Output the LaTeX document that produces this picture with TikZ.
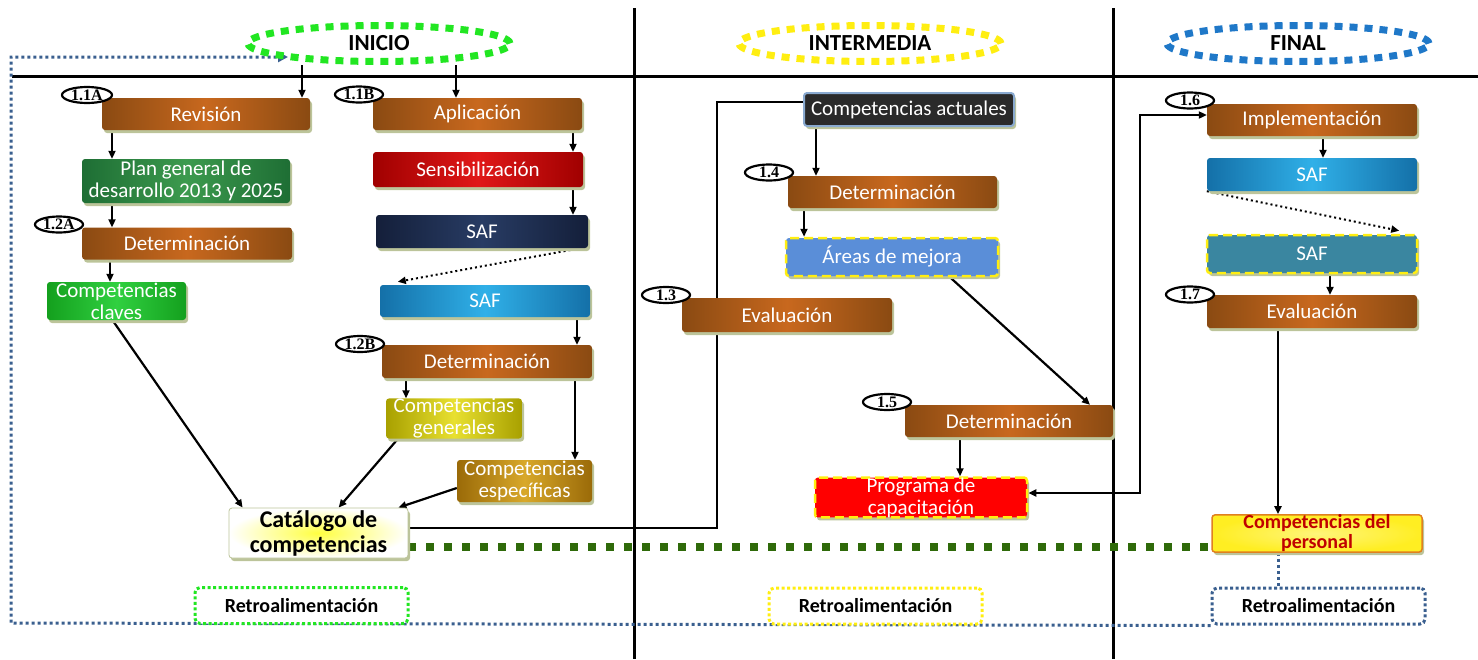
\documentclass[tikz,border=0pt]{standalone}
\usepackage{fontspec}
\setmainfont{Carlito}
\newfontfamily\badgefont{Liberation Serif}
\usetikzlibrary{arrows.meta,shapes.geometric,shadows}
\pgfdeclarelayer{bg}
\pgfsetlayers{bg,main}
\definecolor{brE}{HTML}{8A4A12}
\definecolor{brM}{HTML}{C8681E}
\definecolor{pgE}{HTML}{1E6E34}
\definecolor{pgM}{HTML}{3C9A4E}
\definecolor{cgE}{HTML}{14A01E}
\definecolor{cgM}{HTML}{30D040}
\definecolor{rdE}{HTML}{A00000}
\definecolor{rdM}{HTML}{E01818}
\definecolor{nvE}{HTML}{141F3A}
\definecolor{nvM}{HTML}{283C64}
\definecolor{blE}{HTML}{1470A8}
\definecolor{blM}{HTML}{30B0E8}
\definecolor{olE}{HTML}{A8A000}
\definecolor{olM}{HTML}{E8E030}
\definecolor{gdE}{HTML}{9A6A08}
\definecolor{gdM}{HTML}{D8A82A}
\definecolor{shad}{HTML}{BCC49A}
\definecolor{loopblue}{HTML}{3A5F8F}
\definecolor{fbgreen}{HTML}{2F6A0A}
\definecolor{inigreen}{HTML}{22E622}
\definecolor{midyellow}{HTML}{FFEE11}
\definecolor{finblue}{HTML}{1F78C8}
\definecolor{areablue}{HTML}{5A8ED8}
\definecolor{tealsaf}{HTML}{3A86A0}
\definecolor{darkact}{HTML}{2A2A2A}
\definecolor{actborder}{HTML}{8AAAD0}
\definecolor{persy}{HTML}{FFEE22}
\definecolor{perso}{HTML}{E08020}
\definecolor{persr}{HTML}{C00000}
\tikzset{
  box/.style={rectangle, rounded corners=3pt, inner sep=0pt, align=center, text=white,
    font=\fontsize{21}{22}\selectfont,
    drop shadow={shadow xshift=2pt, shadow yshift=-3pt, fill=shad, opacity=1}},
  grad/.style 2 args={left color=#1, right color=#1, middle color=#2},
  ydash/.style={draw=midyellow, line width=2.5pt, dash pattern=on 9pt off 5pt},
  hdr/.style={ellipse, minimum width=262pt, minimum height=36pt, line width=7pt,
    dash pattern=on 8pt off 7pt, inner sep=0pt, font=\bfseries\fontsize{23}{23}\selectfont},
  retro/.style={rectangle, rounded corners=5pt, fill=white, line width=3pt,
    dash pattern=on 3pt off 2.5pt, minimum width=213pt, minimum height=36pt, inner sep=0pt,
    font=\bfseries\fontsize{20}{20}\selectfont},
  badge/.style={ellipse, draw=black, line width=2.2pt, fill=white, inner sep=0pt,
    minimum width=48pt, minimum height=16pt, font=\badgefont\bfseries\fontsize{16}{16}\selectfont},
  arr/.style={-{Triangle[length=8pt,width=7pt]}, line width=2.2pt},
  darr/.style={{Triangle[length=8pt,width=7pt]}-{Triangle[length=8pt,width=7pt]}, line width=2.2pt},
  plain/.style={line width=2.2pt},
  dotarr/.style={-{Triangle[length=8pt,width=7pt]}, line width=2pt, dash pattern=on 2pt off 3pt},
  loop/.style={draw=loopblue, line width=3pt, dash pattern=on 3pt off 3pt},
  sect/.style={line width=3pt}
}
\begin{document}
\begin{tikzpicture}[x=1pt,y=-1pt]
\useasboundingbox (0,0) rectangle (1478,659);

% headers
\node[hdr, draw=inigreen] (ini) at (379,43.5) {INICIO};
\node[hdr, draw=midyellow] (mid) at (870,43.5) {INTERMEDIA};
\node[hdr, draw=finblue] (fin) at (1298,43.5) {FINAL};

% INICIO column A
\node[box, grad={brE}{brM}, minimum width=208pt, minimum height=32pt] (rev) at (206,114) {Revisión};
\node[box, grad={pgE}{pgM}, minimum width=208pt, minimum height=44pt] (plan) at (186,181) {Plan general de\\desarrollo 2013 y 2025};
\node[box, grad={brE}{brM}, minimum width=210pt, minimum height=32pt] (det1) at (187,243.5) {Determinación};
\node[box, grad={cgE}{cgM}, minimum width=139pt, minimum height=38pt] (claves) at (116.5,301) {Competencias\\claves};

% INICIO column B
\node[box, grad={brE}{brM}, minimum width=209pt, minimum height=32pt] (apl) at (477.5,114) {Aplicación};
\node[box, grad={rdE}{rdM}, minimum width=210pt, minimum height=35pt] (sens) at (478,169.5) {Sensibilización};
\node[box, grad={nvE}{nvM}, minimum width=212pt, minimum height=33pt] (saf1) at (482,231.5) {SAF};
\node[box, grad={blE}{blM}, minimum width=210pt, minimum height=32pt] (saf2) at (485,301) {SAF};
\node[box, grad={brE}{brM}, minimum width=210pt, minimum height=33pt] (det2) at (487,361.5) {Determinación};
\node[box, grad={olE}{olM}, minimum width=136pt, minimum height=39pt] (gen) at (454,418.5) {Competencias\\generales};
\node[box, grad={gdE}{gdM}, minimum width=135pt, minimum height=42pt] (esp) at (524.5,481) {Competencias\\específicas};
\node[box, inner color=yellow!75, outer color=white, text=black, minimum width=179pt, minimum height=50pt,
  font=\bfseries\fontsize{24}{25}\selectfont, draw=shad, line width=0.8pt] (cat) at (318.5,533) {Catálogo de\\competencias};

% INTERMEDIA
\node[box, fill=darkact, draw=actborder, line width=2pt, minimum width=210pt, minimum height=33pt] (act) at (909,109.5) {Competencias actuales};
\node[box, grad={brE}{brM}, minimum width=209pt, minimum height=32pt] (det3) at (892.5,192) {Determinación};
\node[box, fill=areablue, ydash, minimum width=212pt, minimum height=38pt] (areas) at (892,257) {Áreas de mejora};
\node[box, grad={brE}{brM}, minimum width=210pt, minimum height=34pt] (eval1) at (787,315) {Evaluación};
\node[box, grad={brE}{brM}, minimum width=208pt, minimum height=32pt] (det4) at (1009,421) {Determinación};
\node[box, fill=red, ydash, minimum width=212pt, minimum height=39pt] (prog) at (921,497.5) {Programa de\\capacitación};

% FINAL
\node[box, grad={brE}{brM}, minimum width=210pt, minimum height=32pt] (impl) at (1312,120) {Implementación};
\node[box, grad={blE}{blM}, minimum width=210pt, minimum height=33pt] (saf3) at (1312,174.5) {SAF};
\node[box, fill=tealsaf, ydash, minimum width=210pt, minimum height=38pt] (saf4) at (1312,254) {SAF};
\node[box, grad={brE}{brM}, minimum width=210pt, minimum height=33pt] (eval2) at (1312,311.5) {Evaluación};
\node[box, inner color=persy!60!white, outer color=persy, draw=perso, line width=1.5pt, text=persr,
  minimum width=210pt, minimum height=37pt, font=\bfseries\fontsize{20}{20}\selectfont] (pers) at (1317,533.5) {Competencias del\\personal};

% retro boxes
\node[retro, draw=inigreen] (retro1) at (301.5,605.5) {Retroalimentación};
\node[retro, draw=midyellow] (retro2) at (875.5,606) {Retroalimentación};
\node[retro, draw=loopblue] (retro3) at (1318.5,606) {Retroalimentación};

% badges
\node[badge, minimum width=50pt] (b11a) at (87,95) {1.1A};
\node[badge] (b11b) at (359,94.5) {1.1B};
\node[badge] (b12a) at (59,224.5) {1.2A};
\node[badge] (b12b) at (360,344) {1.2B};
\node[badge] (b14) at (769,172.5) {1.4};
\node[badge] (b13) at (666,295) {1.3};
\node[badge] (b15) at (887,402) {1.5};
\node[badge] (b16) at (1190,100.5) {1.6};
\node[badge] (b17) at (1190,294.5) {1.7};

\coordinate (loopTL) at (11,57);
\coordinate (loopBL) at (11,623);
\coordinate (loopEnd) at (288,57);

\begin{pgfonlayer}{bg}
% section lines
\draw[sect] (634,8) -- (634,659);
\draw[sect] (1113,8) -- (1113,659);
\draw[sect] (12,76) -- (1478,76);
% feedback loop
\draw[loop, -{Triangle[length=10pt,width=10pt,fill=loopblue]}] (retro3.south west) -- (loopBL) -- (loopTL) -- (loopEnd);
\draw[loop] (pers.south -| 1278,0) -- (retro3.north -| 1278,0);
% green feedback
\draw[draw=fbgreen, line width=8pt, dash pattern=on 8pt off 10pt] (cat.east |- 0,547) -- (pers.west |- 0,547);
% arrows INICIO
\draw[arr] (ini.south -| 302,0) -- (rev.north -| 302,0);
\draw[arr] (ini.south -| 456,0) -- (apl.north -| 456,0);
\draw[arr] (rev.south -| 112,0) -- (plan.north -| 112,0);
\draw[arr] (plan.south -| 112,0) -- (det1.north -| 112,0);
\draw[arr] (det1.south -| 110,0) -- (claves.north -| 110,0);
\draw[arr] (apl.south -| 573,0) -- (sens.north -| 573,0);
\draw[arr] (sens.south -| 573,0) -- (saf1.north -| 573,0);
\draw[dotarr] ([xshift=-8pt]saf1.south east) -- ([xshift=18pt,yshift=3pt]saf2.north west);
\draw[arr] (saf2.south -| 577,0) -- (det2.north -| 577,0);
\draw[arr] (det2.south -| 406,0) -- (gen.north -| 406,0);
\draw[arr] (det2.south -| 575,0) -- (esp.north -| 575,0);
\draw[arr] ([xshift=-4pt]claves.south) -- ([xshift=14pt]cat.north west);
\draw[arr] ([xshift=-56pt]gen.south) -- ([xshift=110pt]cat.north west);
\draw[arr] ([yshift=-7pt]esp.west) -- ([xshift=-10pt]cat.north east);
% catalog to evaluation to current
\draw[plain] (cat.east |- 0,528) -- (717,528) -- (717,102) -- (act.west |- 0,102);
% INTERMEDIA
\draw[arr] (act.south -| 816,0) -- (det3.north -| 816,0);
\draw[arr] (det3.south -| 804,0) -- (areas.north -| 804,0);
\draw[arr] ([xshift=58pt]areas.south) -- ([xshift=81pt]det4.north);
\draw[arr] (det4.south -| 960,0) -- (prog.north -| 960,0);
\draw[darr] (impl.west |- 0,115) -- (1140,115) -- (1140,493) -- (prog.east |- 0,493);
% FINAL
\draw[arr] (impl.south -| 1323,0) -- (saf3.north -| 1323,0);
\draw[dotarr] (saf3.south west) -- ([xshift=-19pt,yshift=3pt]saf4.north east);
\draw[arr] (saf4.south -| 1330,0) -- (eval2.north -| 1330,0);
\draw[arr] (eval2.south -| 1278,0) -- (pers.north -| 1278,0);
\end{pgfonlayer}
\end{tikzpicture}
\end{document}
